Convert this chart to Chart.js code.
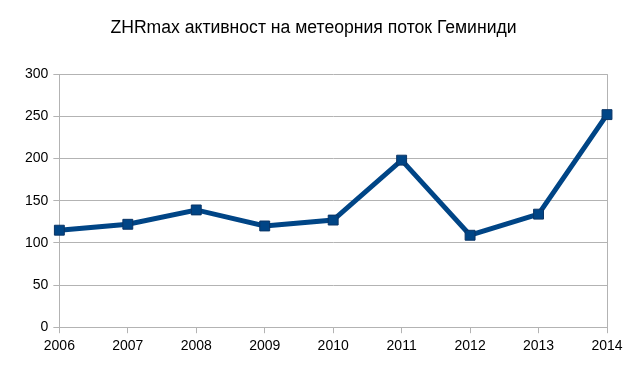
<!DOCTYPE html>
<html>
<head>
<meta charset="utf-8">
<script src="https://cdn.jsdelivr.net/npm/chart.js@4/dist/chart.umd.min.js"></script>
<style>
  html, body { margin: 0; padding: 0; background: #fff; }
  #wrap { width: 640px; height: 376px; }
</style>
</head>
<body>
<div id="wrap"><canvas id="c" width="640" height="376"></canvas></div>
<script>
var years = ["2006", "2007", "2008", "2009", "2010", "2011", "2012", "2013", "2014"];
var zhrMax = [115, 122, 139, 120, 127, 198, 109, 134, 252];
var yTicks = [0, 50, 100, 150, 200, 250, 300];

var GRID = "#b3b3b3";
var FONT = "'Liberation Sans', Arial, sans-serif";

new Chart(document.getElementById("c").getContext("2d"), {
  type: "line",
  data: {
    labels: years,
    datasets: [{
      label: "ZHRmax",
      data: zhrMax,
      borderColor: "#004586",
      backgroundColor: "#004586",
      borderWidth: 5,
      pointStyle: "rect",
      pointRadius: 7,
      pointBorderColor: "#0a3566",
      pointBorderWidth: 1,
      tension: 0,
      fill: false
    }]
  },
  options: {
    responsive: false,
    animation: false,
    layout: { padding: { left: 20, right: 33, top: 0, bottom: 16 } },
    plugins: {
      legend: { display: false },
      tooltip: { enabled: false },
      title: {
        display: true,
        text: "ZHRmax активност на метеорния поток Геминиди",
        color: "#000",
        font: { family: FONT, size: 17.6, weight: "normal" },
        padding: { top: 18, bottom: 35 }
      }
    },
    scales: {
      x: {
        offset: false,
        grid: {
          color: function(ctx) { return ctx.index === years.length - 1 ? GRID : "rgba(0,0,0,0)"; },
          tickColor: GRID,
          tickLength: 6,
          lineWidth: 1
        },
        border: { display: true, color: GRID },
        ticks: { color: "#000", font: { family: FONT, size: 14 }, padding: 5, maxRotation: 0 }
      },
      y: {
        min: 0,
        max: 300,
        afterBuildTicks: function(axis) { axis.ticks = yTicks.map(function(v) { return { value: v }; }); },
        grid: { color: GRID, tickColor: GRID, tickLength: 6 },
        border: { display: true, color: GRID },
        ticks: { color: "#000", font: { family: FONT, size: 14 }, padding: 5 }
      }
    }
  }
});
</script>
</body>
</html>
